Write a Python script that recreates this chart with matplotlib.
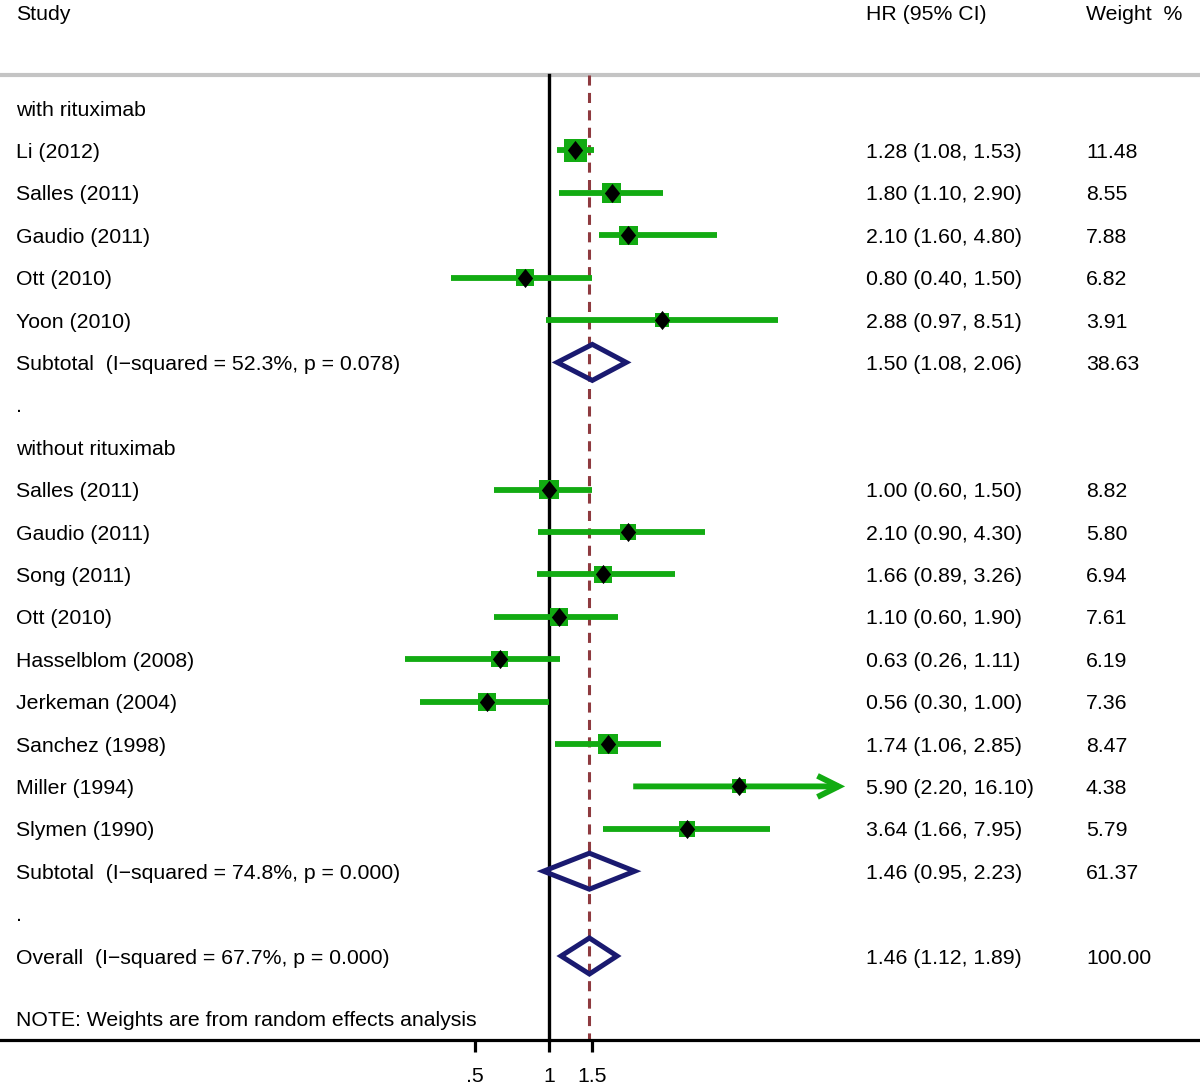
import numpy as np
import matplotlib
matplotlib.use("Agg")
import matplotlib.pyplot as plt
from matplotlib.patches import Polygon
from matplotlib.transforms import blended_transform_factory

plt.rcParams['font.family'] = ['Liberation Sans', 'DejaVu Sans']

# ---------------- data ----------------
labels = ["with rituximab",
          "Li (2012)", "Salles (2011)", "Gaudio (2011)", "Ott (2010)", "Yoon (2010)",
          "Subtotal  (I\u2212squared = 52.3%, p = 0.078)",
          ".",
          "without rituximab",
          "Salles (2011)", "Gaudio (2011)", "Song (2011)", "Ott (2010)",
          "Hasselblom (2008)", "Jerkeman (2004)", "Sanchez (1998)", "Miller (1994)",
          "Slymen (1990)",
          "Subtotal  (I\u2212squared = 74.8%, p = 0.000)",
          ".",
          "Overall  (I\u2212squared = 67.7%, p = 0.000)"]
# kind: h=header, s=study, d=diamond (pooled), b=blank
kinds = ["h", "s", "s", "s", "s", "s", "d", "b", "h",
         "s", "s", "s", "s", "s", "s", "s", "s", "s", "d", "b", "d"]
hr = [None, 1.28, 1.80, 2.10, 0.80, 2.88, 1.50, None, None,
      1.00, 2.10, 1.66, 1.10, 0.63, 0.56, 1.74, 5.90, 3.64, 1.46, None, 1.46]
lo = [None, 1.08, 1.10, 1.60, 0.40, 0.97, 1.08, None, None,
      0.60, 0.90, 0.89, 0.60, 0.26, 0.30, 1.06, 2.20, 1.66, 0.95, None, 1.12]
hi = [None, 1.53, 2.90, 4.80, 1.50, 8.51, 2.06, None, None,
      1.50, 4.30, 3.26, 1.90, 1.11, 1.00, 2.85, 16.10, 7.95, 2.23, None, 1.89]
weights = [None, 11.48, 8.55, 7.88, 6.82, 3.91, 38.63, None, None,
           8.82, 5.80, 6.94, 7.61, 6.19, 7.36, 8.47, 4.38, 5.79, 61.37, None, 100.00]
overall_hr = 1.46
xtick_vals = [0.5, 1, 1.5]
xtick_labels = [".5", "1", "1.5"]
note = "NOTE: Weights are from random effects analysis"

# ---------------- layout / style ----------------
W, H, DPI = 1200, 1090, 100
green = "#12ab12"
navy = "#1a1a70"
dred = "#8e3a3f"
FS = 15.3
px_per_ln = 106.8
x_one_px = 549
row0_px, row_px = 108, 42.4
axis_px = 1040
clip_hi = 16.0   # right edge of forest region (CI beyond it gets an arrow)

fig = plt.figure(figsize=(W / DPI, H / DPI), dpi=DPI)
ax = fig.add_axes([0, (H - axis_px) / H, 1, axis_px / H])
ax.set_xscale("log")
ax.set_xlim(np.exp(-x_one_px / px_per_ln), np.exp((W - x_one_px) / px_per_ln))
ybot = (axis_px - row0_px) / row_px
ytop = -row0_px / row_px
ax.set_ylim(ybot, ytop)

for s in ["left", "right", "top"]:
    ax.spines[s].set_visible(False)
ax.spines["bottom"].set_linewidth(2.3)
ax.set_yticks([])
ax.set_xticks(xtick_vals)
ax.set_xticklabels(xtick_labels, fontsize=FS)
ax.xaxis.set_minor_locator(matplotlib.ticker.NullLocator())
ax.tick_params(axis="x", length=8.5, width=2.3, pad=11)

tr = blended_transform_factory(ax.transAxes, ax.transData)
line_row = (75 - row0_px) / row_px
dy = 2 / row_px   # small downward text offset

# header
hy = (15 - row0_px) / row_px
ax.text(16 / W, hy, "Study", transform=tr, fontsize=FS, va="center")
ax.text(866 / W, hy, "HR (95% CI)", transform=tr, fontsize=FS, va="center")
ax.text(1086 / W, hy, "Weight  %", transform=tr, fontsize=FS, va="center")
ax.axhline(line_row, color="#c4c4c4", lw=3.0, zorder=1)

# reference lines
ax.plot([1, 1], [line_row, ybot], color="black", lw=2.4, zorder=2, clip_on=False)
ax.plot([overall_hr, overall_hr], [line_row, ybot], color=dred, lw=2.2,
        dashes=(3.3, 2.4), zorder=2)

diamond_h = 18 / row_px
for i, (lab, k) in enumerate(zip(labels, kinds)):
    ax.text(16 / W, i + dy, lab, transform=tr, fontsize=FS, va="center")
    if k in ("s", "d"):
        ax.text(866 / W, i + dy, f"{hr[i]:.2f} ({lo[i]:.2f}, {hi[i]:.2f})",
                transform=tr, fontsize=FS, va="center")
        ax.text(1086 / W, i + dy, f"{weights[i]:.2f}", transform=tr, fontsize=FS,
                va="center")
    if k == "s":
        side_pt = 22.5 * 0.72 * np.sqrt(weights[i] / 11.48)
        ax.scatter([hr[i]], [i], marker="s", s=side_pt ** 2, color=green,
                   edgecolors="none", zorder=3)
        if hi[i] > clip_hi:
            ax.annotate("", xy=(clip_hi, i), xytext=(lo[i], i),
                        xycoords="data", textcoords="data",
                        arrowprops=dict(arrowstyle="->", color=green, lw=4.2,
                                        mutation_scale=38, shrinkA=0, shrinkB=0,
                                        capstyle="butt", joinstyle="miter"),
                        zorder=4)
        else:
            ax.plot([lo[i], hi[i]], [i, i], color=green, lw=4.2,
                    solid_capstyle="butt", zorder=4)
        dverts = [(0, 1), (0.8, 0), (0, -1), (-0.8, 0), (0, 1)]
        ax.plot([hr[i]], [i], marker=dverts, markersize=13.8, color="black",
                markeredgewidth=0, zorder=5)
    elif k == "d":
        poly = Polygon([(lo[i], i), (hr[i], i - diamond_h), (hi[i], i),
                        (hr[i], i + diamond_h)], closed=True, facecolor="none",
                       edgecolor=navy, lw=3.6, zorder=4)
        ax.add_patch(poly)

ax.text(16 / W, (1019 - row0_px) / row_px + dy, note, transform=tr, fontsize=FS,
        va="center")

fig.savefig("out.png", dpi=DPI)
